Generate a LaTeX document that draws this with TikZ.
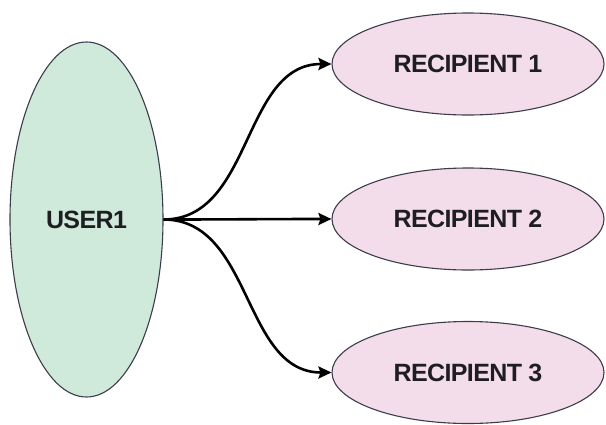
\documentclass[tikz,border=0pt]{standalone}
\usepackage{fontspec}
\setmainfont{Liberation Sans}
\newfontfamily\labelfont[LetterSpace=-2.5]{Liberation Sans}
\usetikzlibrary{shapes.geometric,arrows.meta}

\definecolor{userfill}{HTML}{CFEADB}
\definecolor{recipfill}{HTML}{F4DDEA}
\definecolor{edgeline}{HTML}{3C3C4A}
\definecolor{labeltext}{HTML}{1E1E22}

\tikzset{
  oval/.style={ellipse, draw=edgeline, line width=1.1pt, inner sep=0pt,
    font=\labelfont\fontsize{25}{25}\selectfont\bfseries, text=labeltext},
  usernode/.style={oval, fill=userfill, minimum width=153pt, minimum height=355pt},
  recipnode/.style={oval, fill=recipfill, minimum width=272pt, minimum height=102pt},
  link/.style={line width=2.6pt, black, -{Stealth[length=13pt,width=12pt,inset=2pt]},
    out=0, in=180}
}

\begin{document}
\begin{tikzpicture}[x=1pt,y=-1pt]
  \useasboundingbox (0,0) rectangle (606,424);

  \node[usernode]  (user) at (86.5,219.5) {USER1};
  \node[recipnode] (r1)   at (468,64)    {RECIPIENT 1};
  \node[recipnode] (r2)   at (468,219)   {RECIPIENT 2};
  \node[recipnode] (r3)   at (468,372.5) {RECIPIENT 3};

  \draw[link] (user.east) to (r1.west);
  \draw[link] (user.east) to (r2.west);
  \draw[link] (user.east) to (r3.west);
\end{tikzpicture}
\end{document}
